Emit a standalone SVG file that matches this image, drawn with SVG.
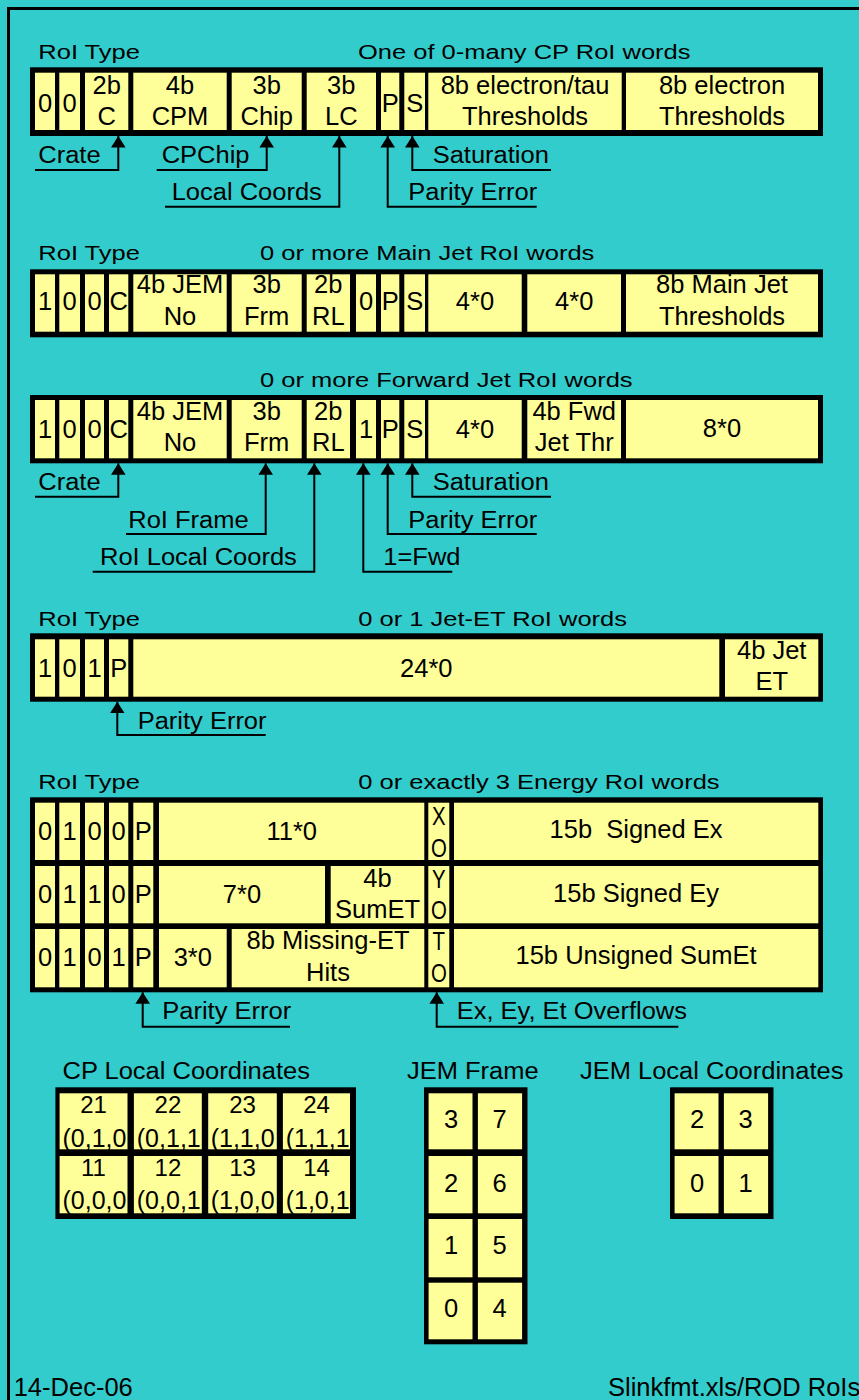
<svg xmlns="http://www.w3.org/2000/svg" width="859" height="1400" viewBox="0 0 859 1400">
<defs>
<style>
.bg{fill:#33CCCC}
.bk{fill:#000}
.y{fill:#FFFF99}
text{font-family:"Liberation Sans",Arial,sans-serif;font-size:25.5px;fill:#000}
.c{text-anchor:middle}
.s{font-size:24px}
.ln{fill:none;stroke:#000;stroke-width:2;marker-end:url(#ah)}
</style>
<marker id="ah" markerUnits="userSpaceOnUse" markerWidth="12" markerHeight="15" refX="11.5" refY="7.3" orient="auto" viewBox="0 0 12 15"><path d="M0,0 L11.5,7.3 L0,14.6 z" fill="#000"/></marker>
</defs>
<rect class="bg" x="0" y="0" width="859" height="1400"/>
<path d="M8.5,1400 V8.5 H859" fill="none" stroke="#000" stroke-width="3"/>

<g id="cp-word">
<text transform="translate(38.3 59.3) scale(1 0.784)">RoI Type</text>
<text transform="translate(358 59.3) scale(1 0.784)">One of 0-many CP RoI words</text>
<rect class="bk" x="30" y="67.3" width="793" height="68.7"/>
<rect class="y" x="35" y="72.7" width="20" height="57.3"/>
<rect class="y" x="59.3" y="72.7" width="20.7" height="57.3"/>
<rect class="y" x="85" y="72.7" width="43.3" height="57.3"/>
<rect class="y" x="133.3" y="72.7" width="93.4" height="57.3"/>
<rect class="y" x="231.7" y="72.7" width="70" height="57.3"/>
<rect class="y" x="306.7" y="72.7" width="69.3" height="57.3"/>
<rect class="y" x="381" y="72.7" width="18.3" height="57.3"/>
<rect class="y" x="404.3" y="72.7" width="20.7" height="57.3"/>
<rect class="y" x="428.3" y="72.7" width="193.4" height="57.3"/>
<rect class="y" x="626" y="72.7" width="192" height="57.3"/>
<text class="c" x="45" y="111.7">0</text>
<text class="c" x="69.7" y="111.7">0</text>
<text class="c" x="106.7" y="94">2b</text><text class="c" x="106.7" y="125">C</text>
<text class="c" x="180" y="94">4b</text><text class="c" x="180" y="125">CPM</text>
<text class="c" x="266.7" y="94">3b</text><text class="c" x="266.7" y="125">Chip</text>
<text class="c" x="341.3" y="94">3b</text><text class="c" x="341.3" y="125">LC</text>
<text class="c" x="390.2" y="111.7">P</text>
<text class="c" x="414.7" y="111.7">S</text>
<text class="c" x="525" y="94">8b electron/tau</text><text class="c" x="525" y="125">Thresholds</text>
<text class="c" x="722" y="94">8b electron</text><text class="c" x="722" y="125">Thresholds</text>
</g>

<g id="mainjet-word">
<text transform="translate(38.3 260) scale(1 0.784)">RoI Type</text>
<text transform="translate(260 260) scale(1 0.784)">0 or more Main Jet RoI words</text>
<rect class="bk" x="30" y="269.3" width="793" height="68"/>
<rect class="y" x="35" y="274.3" width="20" height="57.4"/>
<rect class="y" x="59.3" y="274.3" width="20.7" height="57.4"/>
<rect class="y" x="85" y="274.3" width="19" height="57.4"/>
<rect class="y" x="109" y="274.3" width="19.3" height="57.4"/>
<rect class="y" x="133.3" y="274.3" width="93.4" height="57.4"/>
<rect class="y" x="231.7" y="274.3" width="70" height="57.4"/>
<rect class="y" x="306.7" y="274.3" width="43.3" height="57.4"/>
<rect class="y" x="356" y="274.3" width="20" height="57.4"/>
<rect class="y" x="381" y="274.3" width="18.3" height="57.4"/>
<rect class="y" x="404.3" y="274.3" width="20.7" height="57.4"/>
<rect class="y" x="428.3" y="274.3" width="93.4" height="57.4"/>
<rect class="y" x="527.3" y="274.3" width="93.7" height="57.4"/>
<rect class="y" x="626" y="274.3" width="192" height="57.4"/>
<text class="c" x="45" y="310">1</text>
<text class="c" x="69.7" y="310">0</text>
<text class="c" x="94.5" y="310">0</text>
<text class="c" x="118.7" y="310">C</text>
<text class="c" x="180" y="293.3">4b JEM</text><text class="c" x="180" y="325">No</text>
<text class="c" x="266.7" y="293.3">3b</text><text class="c" x="266.7" y="325">Frm</text>
<text class="c" x="328.3" y="293.3">2b</text><text class="c" x="328.3" y="325">RL</text>
<text class="c" x="366" y="310">0</text>
<text class="c" x="390.2" y="310">P</text>
<text class="c" x="414.7" y="310">S</text>
<text class="c" x="475" y="310">4*0</text>
<text class="c" x="574.2" y="310">4*0</text>
<text class="c" x="722" y="293.3">8b Main Jet</text><text class="c" x="722" y="325">Thresholds</text>
</g>

<g id="fwdjet-word">
<text transform="translate(260 386.7) scale(1 0.784)">0 or more Forward Jet RoI words</text>
<rect class="bk" x="30" y="395" width="793" height="68.3"/>
<rect class="y" x="35" y="400" width="20" height="58.3"/>
<rect class="y" x="59.3" y="400" width="20.7" height="58.3"/>
<rect class="y" x="85" y="400" width="19" height="58.3"/>
<rect class="y" x="109" y="400" width="19.3" height="58.3"/>
<rect class="y" x="133.3" y="400" width="93.4" height="58.3"/>
<rect class="y" x="231.7" y="400" width="70" height="58.3"/>
<rect class="y" x="306.7" y="400" width="43.3" height="58.3"/>
<rect class="y" x="356" y="400" width="20" height="58.3"/>
<rect class="y" x="381" y="400" width="18.3" height="58.3"/>
<rect class="y" x="404.3" y="400" width="20.7" height="58.3"/>
<rect class="y" x="428.3" y="400" width="93.4" height="58.3"/>
<rect class="y" x="527.3" y="400" width="93.7" height="58.3"/>
<rect class="y" x="626" y="400" width="192" height="58.3"/>
<text class="c" x="45" y="438">1</text>
<text class="c" x="69.7" y="438">0</text>
<text class="c" x="94.5" y="438">0</text>
<text class="c" x="118.7" y="438">C</text>
<text class="c" x="180" y="420">4b JEM</text><text class="c" x="180" y="450.7">No</text>
<text class="c" x="266.7" y="420">3b</text><text class="c" x="266.7" y="450.7">Frm</text>
<text class="c" x="328.3" y="420">2b</text><text class="c" x="328.3" y="450.7">RL</text>
<text class="c" x="366" y="438">1</text>
<text class="c" x="390.2" y="438">P</text>
<text class="c" x="414.7" y="438">S</text>
<text class="c" x="475" y="438">4*0</text>
<text class="c" x="574.2" y="420">4b Fwd</text><text class="c" x="574.2" y="450.7">Jet Thr</text>
<text class="c" x="722" y="437">8*0</text>
</g>

<g id="jetet-word">
<text transform="translate(38.3 626) scale(1 0.784)">RoI Type</text>
<text transform="translate(358.3 626) scale(1 0.784)">0 or 1 Jet-ET RoI words</text>
<rect class="bk" x="30" y="633.3" width="793" height="68.4"/>
<rect class="y" x="35" y="639.3" width="20" height="57.4"/>
<rect class="y" x="59.3" y="639.3" width="20.7" height="57.4"/>
<rect class="y" x="85" y="639.3" width="19" height="57.4"/>
<rect class="y" x="109" y="639.3" width="19.3" height="57.4"/>
<rect class="y" x="133.3" y="639.3" width="586" height="57.4"/>
<rect class="y" x="725" y="639.3" width="93.3" height="57.4"/>
<text class="c" x="45" y="676.7">1</text>
<text class="c" x="69.7" y="676.7">0</text>
<text class="c" x="94.5" y="676.7">1</text>
<text class="c" x="118.7" y="676.7">P</text>
<text class="c" x="426.3" y="676.7">24*0</text>
<text class="c" x="771.7" y="659.3">4b Jet</text><text class="c" x="771.7" y="690">ET</text>
</g>

<g id="energy-words">
<text transform="translate(38.3 789.3) scale(1 0.784)">RoI Type</text>
<text transform="translate(358.3 789.3) scale(1 0.784)">0 or exactly 3 Energy RoI words</text>
<rect class="bk" x="30" y="797.3" width="793" height="195"/>
<g id="energy-row1">
<rect class="y" x="35" y="802.7" width="20" height="57.3"/>
<rect class="y" x="59.3" y="802.7" width="20.7" height="57.3"/>
<rect class="y" x="85" y="802.7" width="19" height="57.3"/>
<rect class="y" x="109" y="802.7" width="19.3" height="57.3"/>
<rect class="y" x="133.3" y="802.7" width="20" height="57.3"/>
<rect class="y" x="159" y="802.7" width="265.3" height="57.3"/>
<rect class="y" x="428.3" y="802.7" width="21" height="57.3"/>
<rect class="y" x="454" y="802.7" width="364.3" height="57.3"/>
<text class="c" x="45" y="840">0</text>
<text class="c" x="69.7" y="840">1</text>
<text class="c" x="94.5" y="840">0</text>
<text class="c" x="118.7" y="840">0</text>
<text class="c" x="143.3" y="840">P</text>
<text class="c" x="291.7" y="840">11*0</text>
<text class="c" transform="translate(438.8 825) scale(0.8 1)">X</text>
<text class="c" transform="translate(438.8 856.7) scale(0.8 1)">O</text>
<text class="c" x="636" y="838.3">15b&#160; Signed Ex</text>
</g>
<g id="energy-row2">
<rect class="y" x="35" y="866" width="20" height="57.3"/>
<rect class="y" x="59.3" y="866" width="20.7" height="57.3"/>
<rect class="y" x="85" y="866" width="19" height="57.3"/>
<rect class="y" x="109" y="866" width="19.3" height="57.3"/>
<rect class="y" x="133.3" y="866" width="20" height="57.3"/>
<rect class="y" x="159" y="866" width="166" height="57.3"/>
<rect class="y" x="330.7" y="866" width="93.6" height="57.3"/>
<rect class="y" x="428.3" y="866" width="21" height="57.3"/>
<rect class="y" x="454" y="866" width="364.3" height="57.3"/>
<text class="c" x="45" y="903.3">0</text>
<text class="c" x="69.7" y="903.3">1</text>
<text class="c" x="94.5" y="903.3">1</text>
<text class="c" x="118.7" y="903.3">0</text>
<text class="c" x="143.3" y="903.3">P</text>
<text class="c" x="242" y="903.3">7*0</text>
<text class="c" x="377.5" y="887">4b</text><text class="c" x="377.5" y="917.5">SumET</text>
<text class="c" transform="translate(438.8 888.3) scale(0.8 1)">Y</text>
<text class="c" transform="translate(438.8 919.3) scale(0.8 1)">O</text>
<text class="c" x="636" y="901.7">15b Signed Ey</text>
</g>
<g id="energy-row3">
<rect class="y" x="35" y="929" width="20" height="58.3"/>
<rect class="y" x="59.3" y="929" width="20.7" height="58.3"/>
<rect class="y" x="85" y="929" width="19" height="58.3"/>
<rect class="y" x="109" y="929" width="19.3" height="58.3"/>
<rect class="y" x="133.3" y="929" width="20" height="58.3"/>
<rect class="y" x="159" y="929" width="67.7" height="58.3"/>
<rect class="y" x="231.7" y="929" width="192.6" height="58.3"/>
<rect class="y" x="428.3" y="929" width="21" height="58.3"/>
<rect class="y" x="454" y="929" width="364.3" height="58.3"/>
<text class="c" x="45" y="965.5">0</text>
<text class="c" x="69.7" y="965.5">1</text>
<text class="c" x="94.5" y="965.5">0</text>
<text class="c" x="118.7" y="965.5">1</text>
<text class="c" x="143.3" y="965.5">P</text>
<text class="c" x="192.8" y="965.5">3*0</text>
<text class="c" x="328" y="948.5">8b Missing-ET</text><text class="c" x="328" y="980.5">Hits</text>
<text class="c" transform="translate(438.8 950) scale(0.8 1)">T</text>
<text class="c" transform="translate(438.8 981.7) scale(0.8 1)">O</text>
<text class="c" x="636" y="964">15b Unsigned SumEt</text>
</g>
</g>

<g id="connectors">
<polyline class="ln" points="35,170 118.3,170 118.3,136"/>
<polyline class="ln" points="156.7,170 266.7,170 266.7,136"/>
<polyline class="ln" points="165,206.7 339.3,206.7 339.3,136"/>
<polyline class="ln" points="536.7,206.7 387.7,206.7 387.7,136"/>
<polyline class="ln" points="551,170 412.3,170 412.3,136"/>
<polyline class="ln" points="35,496.7 118.3,496.7 118.3,463.3"/>
<polyline class="ln" points="126,534 265.7,534 265.7,463.3"/>
<polyline class="ln" points="92.7,571.7 314.3,571.7 314.3,463.3"/>
<polyline class="ln" points="452.3,571.7 363.3,571.7 363.3,463.3"/>
<polyline class="ln" points="536.7,534 387.7,534 387.7,463.3"/>
<polyline class="ln" points="551,496.7 412.3,496.7 412.3,463.3"/>
<polyline class="ln" points="265.7,735 117.3,735 117.3,701.7"/>
<polyline class="ln" points="290,1026.7 142.7,1026.7 142.7,992.3"/>
<polyline class="ln" points="678.3,1026.7 436.7,1026.7 436.7,992.3"/>
</g>

<g id="labels">
<text transform="translate(38.3 163.3) scale(1 0.914)">Crate</text>
<text transform="translate(161.7 163.3) scale(1 0.914)">CPChip</text>
<text transform="translate(171.7 200) scale(1 0.914)">Local Coords</text>
<text transform="translate(408.3 200) scale(1 0.914)">Parity Error</text>
<text transform="translate(432.7 163.3) scale(1 0.914)">Saturation</text>
<text transform="translate(38.3 490) scale(1 0.914)">Crate</text>
<text transform="translate(128.3 528.3) scale(1 0.914)">RoI Frame</text>
<text transform="translate(100 565) scale(1 0.914)">RoI Local Coords</text>
<text transform="translate(383.3 565) scale(1 0.914)">1=Fwd</text>
<text transform="translate(408.3 528.3) scale(1 0.914)">Parity Error</text>
<text transform="translate(432.7 490) scale(1 0.914)">Saturation</text>
<text transform="translate(137.7 729.3) scale(1 0.914)">Parity Error</text>
<text transform="translate(162.3 1019.3) scale(1 0.914)">Parity Error</text>
<text transform="translate(456.7 1019.3) scale(1 0.914)">Ex, Ey, Et Overflows</text>
</g>

<g id="cp-local-coords">
<text transform="translate(62.5 1079.3) scale(1 0.914)">CP Local Coordinates</text>
<rect class="bk" x="55.4" y="1087.3" width="300.6" height="131.7"/>
<rect class="y" x="59.6" y="1093.3" width="67.9" height="56"/>
<rect class="y" x="133.9" y="1093.3" width="67.9" height="56"/>
<rect class="y" x="208.2" y="1093.3" width="68.6" height="56"/>
<rect class="y" x="282.9" y="1093.3" width="67.1" height="56"/>
<rect class="y" x="59.6" y="1156" width="67.9" height="57.3"/>
<rect class="y" x="133.9" y="1156" width="67.9" height="57.3"/>
<rect class="y" x="208.2" y="1156" width="68.6" height="57.3"/>
<rect class="y" x="282.9" y="1156" width="67.1" height="57.3"/>
<text class="c s" x="93.5" y="1112.7">21</text>
<text class="c s" x="167.9" y="1112.7">22</text>
<text class="c s" x="242.5" y="1112.7">23</text>
<text class="c s" x="316.5" y="1112.7">24</text>
<text x="62.5" y="1146.7" style="font-size:25px">(0,1,0</text>
<text x="136.8" y="1146.7" style="font-size:25px">(0,1,1</text>
<text x="210.7" y="1146.7" style="font-size:25px">(1,1,0</text>
<text x="285.7" y="1146.7" style="font-size:25px">(1,1,1</text>
<text class="c s" x="93.5" y="1176">11</text>
<text class="c s" x="167.9" y="1176">12</text>
<text class="c s" x="242.5" y="1176">13</text>
<text class="c s" x="316.5" y="1176">14</text>
<text x="62.5" y="1209.3" style="font-size:25px">(0,0,0</text>
<text x="136.8" y="1209.3" style="font-size:25px">(0,0,1</text>
<text x="210.7" y="1209.3" style="font-size:25px">(1,0,0</text>
<text x="285.7" y="1209.3" style="font-size:25px">(1,0,1</text>
</g>

<g id="jem-frame">
<text transform="translate(407 1079.3) scale(1 0.914)">JEM Frame</text>
<rect class="bk" x="424" y="1087.3" width="103.5" height="257"/>
<rect class="y" x="428.6" y="1093.3" width="43.9" height="56"/>
<rect class="y" x="477.9" y="1093.3" width="44.2" height="56"/>
<rect class="y" x="428.6" y="1156" width="43.9" height="57.3"/>
<rect class="y" x="477.9" y="1156" width="44.2" height="57.3"/>
<rect class="y" x="428.6" y="1219" width="43.9" height="58.3"/>
<rect class="y" x="477.9" y="1219" width="44.2" height="58.3"/>
<rect class="y" x="428.6" y="1282.7" width="43.9" height="56.6"/>
<rect class="y" x="477.9" y="1282.7" width="44.2" height="56.6"/>
<text class="c" x="451" y="1128.3">3</text>
<text class="c" x="499.5" y="1128.3">7</text>
<text class="c" x="451" y="1191.7">2</text>
<text class="c" x="499.5" y="1191.7">6</text>
<text class="c" x="451" y="1254">1</text>
<text class="c" x="499.5" y="1254">5</text>
<text class="c" x="451" y="1316.7">0</text>
<text class="c" x="499.5" y="1316.7">4</text>
</g>

<g id="jem-local-coords">
<text transform="translate(580 1079.3) scale(1 0.914)">JEM Local Coordinates</text>
<rect class="bk" x="670" y="1087.3" width="103.5" height="131.7"/>
<rect class="y" x="674.6" y="1093.3" width="43.9" height="56"/>
<rect class="y" x="723.9" y="1093.3" width="44.2" height="56"/>
<rect class="y" x="674.6" y="1156" width="43.9" height="57.3"/>
<rect class="y" x="723.9" y="1156" width="44.2" height="57.3"/>
<text class="c" x="697" y="1128.3">2</text>
<text class="c" x="745.5" y="1128.3">3</text>
<text class="c" x="697" y="1191.7">0</text>
<text class="c" x="745.5" y="1191.7">1</text>
</g>

<g id="footer">
<text x="13.7" y="1396">14-Dec-06</text>
<text x="608" y="1396">Slinkfmt.xls/ROD RoIs</text>
</g>
</svg>
